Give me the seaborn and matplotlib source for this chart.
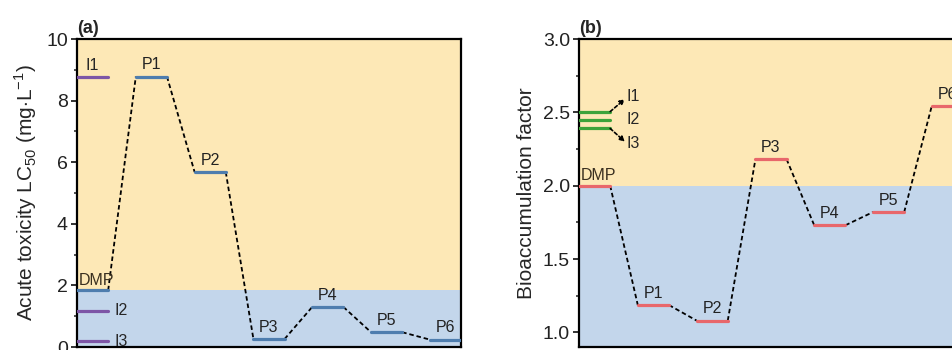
import pandas as pd
import matplotlib
matplotlib.use('Agg')
import matplotlib.pyplot as plt
import seaborn as sns

# panel (a): acute toxicity LC50 (mg/L)
tox_names = ['DMP', 'P1', 'P2', 'P3', 'P4', 'P5', 'P6']
tox_values = [1.84, 8.78, 5.68, 0.26, 1.30, 0.48, 0.24]
tox_inter_names = ['I1', 'I2', 'I3']
tox_inter_values = [8.76, 1.18, 0.18]
tox_threshold = 1.84

# panel (b): bioaccumulation factor
bio_names = ['DMP', 'P1', 'P2', 'P3', 'P4', 'P5', 'P6']
bio_values = [2.00, 1.186, 1.08, 2.18, 1.73, 1.82, 2.545]
bio_inter_names = ['I1', 'I2', 'I3']
bio_inter_values = [2.505, 2.45, 2.39]
bio_threshold = 2.0

W = 0.53  # width of a level, in step units
YELLOW = '#FDE8B6'
BLUE = '#C3D6EB'
LAB = 11.5

sns.set_theme(style='ticks')
plt.rcParams.update({
    'font.family': ['Liberation Sans', 'DejaVu Sans'],
    'mathtext.fontset': 'custom',
    'mathtext.rm': 'Liberation Sans',
    'axes.linewidth': 1.6,
    'xtick.direction': 'out', 'ytick.direction': 'out',
    'ytick.major.size': 4, 'ytick.minor.size': 2.5,
    'ytick.major.width': 1.3, 'ytick.minor.width': 1.1,
    'ytick.major.pad': 2.5,
    'ytick.labelsize': 14, 'ytick.color': '#222222',
})


def levels_frame(names, values, x0=None):
    rows = []
    for i, (n, v) in enumerate(zip(names, values)):
        s = i if x0 is None else x0
        rows += [{'name': n, 'x': s, 'y': v}, {'name': n, 'x': s + W, 'y': v}]
    return pd.DataFrame(rows)


def links_frame(values):
    rows = []
    for i in range(len(values) - 1):
        rows += [{'seg': i, 'x': i + W, 'y': values[i]},
                 {'seg': i, 'x': i + 1, 'y': values[i + 1]}]
    return pd.DataFrame(rows)


def draw_panel(ax, names, values, inames, ivalues, thr, ylim, main_c, inter_c):
    ax.axhspan(thr, ylim[1], color=YELLOW, zorder=0, lw=0)
    ax.axhspan(ylim[0], thr, color=BLUE, zorder=0, lw=0)
    sns.lineplot(data=links_frame(values), x='x', y='y', units='seg', estimator=None,
                 color='black', lw=1.3, dashes=False, ax=ax, zorder=2)
    for ln in ax.lines:
        ln.set_linestyle((0, (2.5, 1.6)))
    sns.lineplot(data=levels_frame(inames, ivalues, x0=0), x='x', y='y', units='name',
                 estimator=None, color=inter_c, lw=2.3, ax=ax, zorder=3)
    sns.lineplot(data=levels_frame(names, values), x='x', y='y', units='name',
                 estimator=None, color=main_c, lw=2.3, ax=ax, zorder=3)
    for i, (n, v) in enumerate(zip(names, values)):
        if i == 0:
            ax.annotate(n, (0, v), xytext=(1, 2), textcoords='offset points',
                        ha='left', va='bottom', fontsize=LAB, color='#3a3020')
        else:
            ax.annotate(n, (i + W / 2, v), xytext=(0, 3), textcoords='offset points',
                        ha='center', va='bottom', fontsize=LAB, color='#222222')
    ax.set_xlim(0, 6.53)
    ax.set_ylim(*ylim)
    ax.set_xticks([])
    ax.set_xlabel('')
    for s in ax.spines.values():
        s.set_color('black')


fig = plt.figure(figsize=(9.52, 3.5), dpi=100)
ax1 = fig.add_axes([77 / 952, 3 / 350, 384 / 952, 308 / 350])
ax2 = fig.add_axes([579 / 952, 3 / 350, 384 / 952, 308 / 350])

draw_panel(ax1, tox_names, tox_values, tox_inter_names, tox_inter_values,
           tox_threshold, (0, 10), '#4E7DAE', '#7D56A6')
ax1.set_yticks([0, 2, 4, 6, 8, 10])
ax1.set_yticks([1, 3, 5, 7, 9], minor=True)
ax1.set_ylabel('Acute toxicity LC$_{50}$ (mg$\\cdot$L$^{-1}$)', fontsize=15, labelpad=5)
ax1.annotate(tox_inter_names[0], (W / 2, tox_inter_values[0]), xytext=(0, 3),
             textcoords='offset points', ha='center', va='bottom', fontsize=LAB)
for n, v in zip(tox_inter_names[1:], tox_inter_values[1:]):
    ax1.annotate(n, (0.64, v), ha='left', va='center', fontsize=LAB)

draw_panel(ax2, bio_names, bio_values, bio_inter_names, bio_inter_values,
           bio_threshold, (0.9, 3.0), '#E8676B', '#3DA33A')
ax2.set_yticks([1.0, 1.5, 2.0, 2.5, 3.0])
ax2.set_yticks([1.25, 1.75, 2.25, 2.75], minor=True)
ax2.yaxis.set_major_formatter(matplotlib.ticker.FormatStrFormatter('%.1f'))
ax2.set_ylabel('Bioaccumulation factor', fontsize=15, labelpad=5)
for yi, yt in [(bio_inter_values[0], 2.59), (bio_inter_values[2], 2.30)]:
    ax2.annotate('', xy=(0.78, yt), xytext=(W, yi),
                 arrowprops=dict(arrowstyle='-|>', ls=(0, (2, 1.5)), lw=1.2, color='black',
                                 mutation_scale=7, shrinkA=0, shrinkB=0))
ax2.text(0.8, 2.61, bio_inter_names[0], ha='left', va='center', fontsize=LAB)
ax2.text(0.8, 2.45, bio_inter_names[1], ha='left', va='center', fontsize=LAB)
ax2.text(0.8, 2.29, bio_inter_names[2], ha='left', va='center', fontsize=LAB)

for ax, lab in [(ax1, '(a)'), (ax2, '(b)')]:
    ax.text(0.0, 1.008, lab, transform=ax.transAxes, ha='left', va='bottom',
            fontsize=13, fontweight='bold')
    if ax.get_legend():
        ax.get_legend().remove()

fig.savefig('out.png', dpi=100)
